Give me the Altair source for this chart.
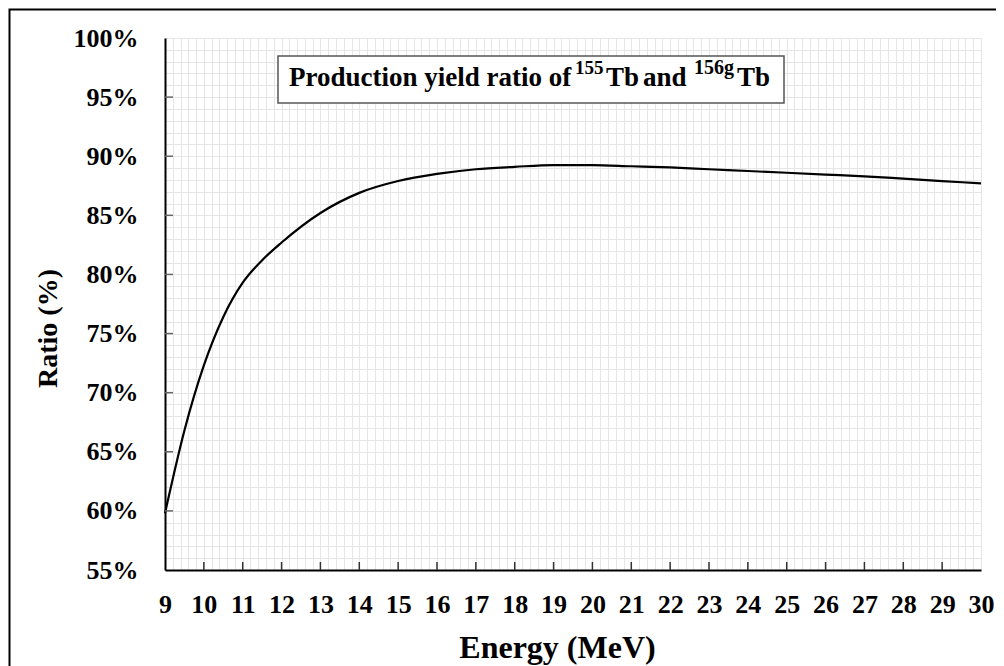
import altair as alt
import pandas as pd

# ---- data ----
energy = [9, 9.5, 10, 10.5, 11, 11.5, 12, 13, 14, 15, 16, 17, 18, 19, 20,
          21, 22, 23, 24, 25, 26, 27, 28, 29, 30]
ratio = [59.8, 66.8, 72.3, 76.4, 79.3, 81.2, 82.7, 85.2, 86.9, 87.9, 88.5,
         88.9, 89.1, 89.25, 89.25, 89.15, 89.05, 88.9, 88.75, 88.6, 88.45,
         88.3, 88.1, 87.9, 87.7]

x_tick_marks = list(range(10, 30))
y_tick_marks = list(range(60, 100, 5))

title_parts = ["Production yield ratio of", "155", "Tb", "and", "156g", "Tb"]

FONT = "Liberation Serif"
W, H = 816, 532
PL, PT, PR, PB = 157, 30, 15, 96

df = pd.DataFrame({"E": energy, "R": ratio})

x_grid_vals = [round(9 + i * 0.2, 1) for i in range(0, 106)]
y_grid_vals = list(range(55, 101))

x_scale = alt.Scale(domain=[9, 30], nice=False, zero=False)
y_scale = alt.Scale(domain=[55, 100], nice=False, zero=False)

x_axis = alt.Axis(
    values=x_grid_vals,
    labelExpr="datum.value % 1 == 0 ? format(datum.value, 'd') : ''",
    grid=True, gridColor="#e6e6e6", gridWidth=1,
    ticks=False, tickSize=0,
    domain=True, domainColor="black", domainWidth=2,
    labelFont=FONT, labelFontSize=26, labelFontWeight="bold", labelColor="black",
    labelPadding=42, labelBaseline="alphabetic", labelFlush=False,
    labelOverlap=False, labelBound=False,
    title="Energy (MeV)", titleFont=FONT, titleFontSize=32,
    titleFontWeight="bold", titleColor="black",
    titleX=392, titleY=87, titleBaseline="alphabetic", titleAlign="center",
)
y_axis = alt.Axis(
    values=y_grid_vals,
    labelExpr="datum.value % 5 == 0 ? datum.value + '%' : ''",
    grid=True, gridColor="#e6e6e6", gridWidth=1,
    ticks=False, tickSize=0,
    domain=True, domainColor="black", domainWidth=2,
    labelFont=FONT, labelFontSize=26, labelFontWeight="bold", labelColor="black",
    labelPadding=27, labelOverlap=False, labelBound=False, labelFlush=False,
    title="Ratio (%)", titleFont=FONT, titleFontSize=28,
    titleFontWeight="bold", titleColor="black",
    titleX=-109, titleY=290, titleAngle=270, titleBaseline="alphabetic",
    titleAlign="center",
)

X = alt.X("E:Q", scale=x_scale, axis=x_axis)
Y = alt.Y("R:Q", scale=y_scale, axis=y_axis)

line = alt.Chart(df).mark_line(color="black", strokeWidth=2.2,
                               interpolate="monotone").encode(x=X, y=Y)

xt = alt.Chart(pd.DataFrame({"E": x_tick_marks})).mark_rule(
    color="#333", strokeWidth=1.5).encode(
    x=X, y=alt.value(H), y2=alt.value(H - 8))

yt = alt.Chart(pd.DataFrame({"R": y_tick_marks})).mark_rule(
    color="#666", strokeWidth=1.5).encode(
    y=Y, x=alt.value(0), x2=alt.value(8))

one = pd.DataFrame({"k": [0]})

frame = alt.Chart(one).mark_rect(fill=None, stroke="black", strokeWidth=2).encode(
    x=alt.value(-PL + 1.5), x2=alt.value(W + PR + 6),
    y=alt.value(-PT + 1.5), y2=alt.value(H + PB + 6))

box = alt.Chart(one).mark_rect(fill="white", stroke="#555", strokeWidth=1.5).encode(
    x=alt.value(113), x2=alt.value(619), y=alt.value(18), y2=alt.value(65))

pieces = [
    (title_parts[0], 124, 48, 27),
    (title_parts[1], 410, 36, 19),
    (title_parts[2], 441, 48, 27),
    (title_parts[3], 478, 48, 27),
    (title_parts[4], 529, 36, 20),
    (title_parts[5], 572, 48, 27),
]
texts = []
for t, px, py, fs in pieces:
    texts.append(
        alt.Chart(one).mark_text(font=FONT, fontWeight="bold", fontSize=fs,
                                 color="black", align="left",
                                 baseline="alphabetic").encode(
            x=alt.value(px), y=alt.value(py), text=alt.value(t))
    )

chart = alt.layer(line, xt, yt, frame, box, *texts).properties(
    width=W, height=H,
    padding={"left": PL, "top": PT, "right": PR, "bottom": PB},
    autosize=alt.AutoSizeParams(type="none"),
).configure_view(stroke="black", strokeWidth=1.2).configure(background="white")

chart.save("out.html", embed_options={"renderer": "svg", "actions": False})
